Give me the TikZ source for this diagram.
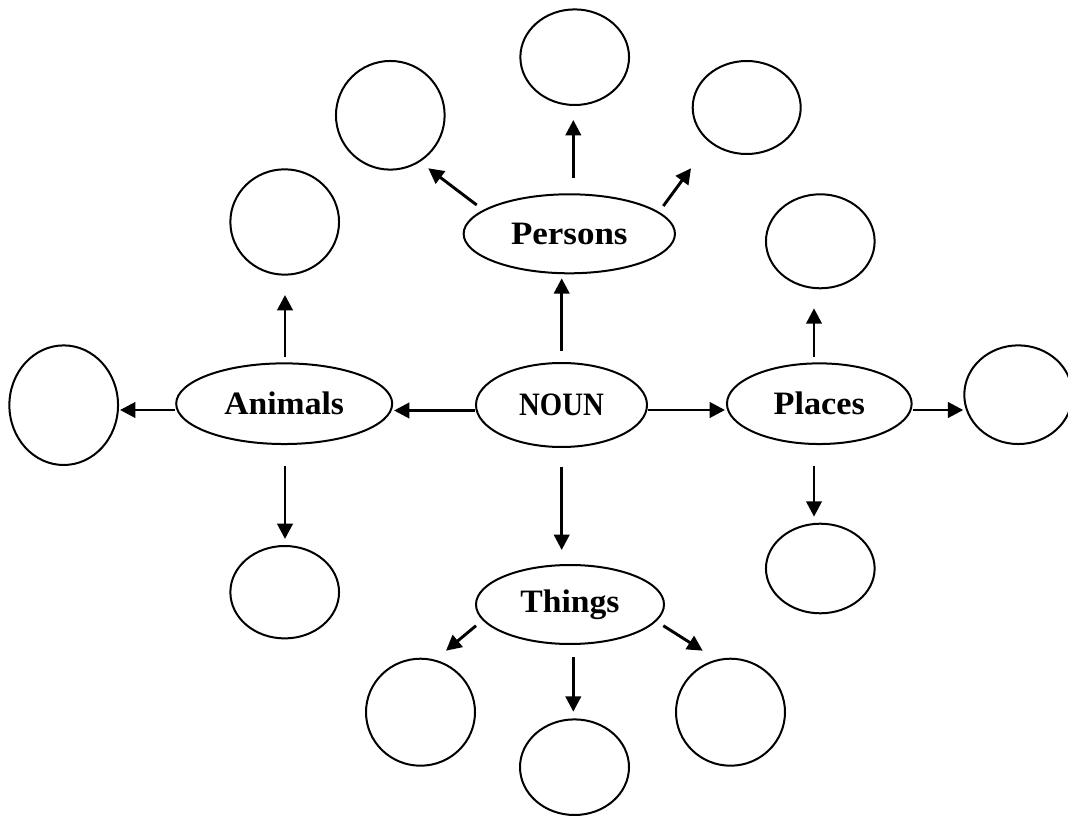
\documentclass[tikz,border=0pt]{standalone}
\usepackage{fontspec}
\setmainfont{Liberation Serif}
\usetikzlibrary{shapes.geometric,arrows.meta}
\begin{document}
\begin{tikzpicture}[x=0.75pt,y=-0.75pt,
  ell/.style={draw=black,line width=1.5pt,ellipse,inner sep=0pt,
    font=\fontsize{24.5}{28}\selectfont\bfseries},
  blank/.style={draw=black,line width=1.5pt,ellipse,inner sep=0pt},
  arr/.style={draw=black,line width=2.2pt,-{Triangle[length=11.5pt,width=11.5pt]}}]
\useasboundingbox (0,0) rectangle (1068,816);
% main ellipses
\node[ell,minimum width=128.25pt,minimum height=63pt] (noun) at (561.5,405) {\scalebox{0.88}[1]{NOUN}};
\node[ell,minimum width=158.5pt,minimum height=59.25pt] (persons) at (569.3,233.8) {\scalebox{1.07}[1]{Persons}};
\node[ell,minimum width=141pt,minimum height=59.25pt] (things) at (570,604.5) {\scalebox{1.03}[1]{Things}};
\node[ell,minimum width=162pt,minimum height=60.5pt] (animals) at (284.2,403.7) {\scalebox{1.03}[1]{Animals}};
\node[ell,minimum width=138.5pt,minimum height=60.5pt] (places) at (819.3,403.7) {\scalebox{1.05}[1]{Places}};
% blank circles
\node[blank,minimum width=81.5pt,minimum height=81.5pt] (p1) at (390.3,115.3) {};
\node[blank,minimum width=81.5pt,minimum height=71.7pt] (p2) at (574.7,57.2) {};
\node[blank,minimum width=81pt,minimum height=69.75pt] (p3) at (746.7,107.5) {};
\node[blank,minimum width=81.5pt,minimum height=79pt] (a1) at (284.7,222) {};
\node[blank,minimum width=81.5pt,minimum height=89.7pt] (a2) at (63.7,405.2) {};
\node[blank,minimum width=81.5pt,minimum height=69.3pt] (a3) at (284.7,592.2) {};
\node[blank,minimum width=81.5pt,minimum height=70.5pt] (l1) at (820.3,241.3) {};
\node[blank,minimum width=81pt,minimum height=74pt] (l2) at (1018.3,394.7) {};
\node[blank,minimum width=81.5pt,minimum height=67.2pt] (l3) at (820.3,568.5) {};
\node[blank,minimum width=81.75pt,minimum height=80.25pt] (t1) at (420.5,712.2) {};
\node[blank,minimum width=81.75pt,minimum height=71.7pt] (t2) at (574.5,767.2) {};
\node[blank,minimum width=81.75pt,minimum height=80.25pt] (t3) at (730.5,712.2) {};
% arrow end points
\coordinate (nP0) at (561.7,350.7); \coordinate (nP1) at (561.7,278.3);
\coordinate (nA0) at (475,410.5);   \coordinate (nA1) at (394,410.5);
\coordinate (nL0) at (648,410);     \coordinate (nL1) at (725,410);
\coordinate (nT0) at (561.7,466.7); \coordinate (nT1) at (561.7,550);
\coordinate (p10) at (476.7,205);   \coordinate (p11) at (428.3,168.3);
\coordinate (p20) at (573.3,178.3); \coordinate (p21) at (573.3,120);
\coordinate (p30) at (663.3,206);   \coordinate (p31) at (691,168.3);
\coordinate (a10) at (285,357.3);   \coordinate (a11) at (285,295);
\coordinate (a20) at (175,410);     \coordinate (a21) at (120,410);
\coordinate (a30) at (285,466);     \coordinate (a31) at (285,539);
\coordinate (l10) at (814,357.3);   \coordinate (l11) at (814,308.3);
\coordinate (l20) at (913.3,410);   \coordinate (l21) at (963.3,410);
\coordinate (l30) at (814,466);     \coordinate (l31) at (814,516.7);
\coordinate (t10) at (476,625.7);   \coordinate (t11) at (446,650.7);
\coordinate (t20) at (573.3,657.3); \coordinate (t21) at (573.3,711.7);
\coordinate (t30) at (663.3,625.7); \coordinate (t31) at (702.7,650.7);
% arrows
\draw[arr] (nP0) -- (nP1);
\draw[arr] (nA0) -- (nA1);
\draw[arr] (nL0) -- (nL1);
\draw[arr] (nT0) -- (nT1);
\draw[arr] (p10) -- (p11);
\draw[arr] (p20) -- (p21);
\draw[arr] (p30) -- (p31);
\draw[arr] (a10) -- (a11);
\draw[arr] (a20) -- (a21);
\draw[arr] (a30) -- (a31);
\draw[arr] (l10) -- (l11);
\draw[arr] (l20) -- (l21);
\draw[arr] (l30) -- (l31);
\draw[arr] (t10) -- (t11);
\draw[arr] (t20) -- (t21);
\draw[arr] (t30) -- (t31);
\end{tikzpicture}
\end{document}
